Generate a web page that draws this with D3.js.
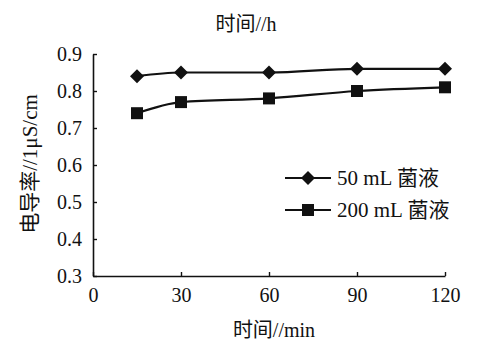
<!DOCTYPE html>
<html>
<head>
<meta charset="utf-8">
<script src="https://cdn.jsdelivr.net/npm/d3@7/dist/d3.min.js"></script>
<style>
  html, body { margin: 0; padding: 0; background: #fff; }
  svg { display: block; }
  text { font-family: "Liberation Serif", "Times New Roman", "Noto Sans CJK SC", serif; fill: #111; }
</style>
</head>
<body>
<svg id="chart" width="503" height="342"></svg>
<script>
// Conductivity over time for two culture volumes
const times = [15, 30, 60, 90, 120];
const series50 = [0.84, 0.85, 0.85, 0.86, 0.86];
const series200 = [0.74, 0.77, 0.78, 0.80, 0.81];
const seriesNames = ["50 mL 菌液", "200 mL 菌液"];
const xTicks = [0, 30, 60, 90, 120];
const yTicks = [0.3, 0.4, 0.5, 0.6, 0.7, 0.8, 0.9];

const svg = d3.select("#chart");
const margin = { left: 93, right: 58, top: 54, bottom: 66 };
const W = 503, H = 342;
const serif = '"Liberation Serif", "Times New Roman", "Noto Sans CJK SC", serif';

const x = d3.scaleLinear().domain([0, 120]).range([margin.left, W - margin.right]);
const y = d3.scaleLinear().domain([0.3, 0.9]).range([H - margin.bottom, margin.top]);

const ink = "#111";

// x axis (ticks inward)
const gx = svg.append("g")
  .attr("transform", `translate(0,${y(0.3)})`)
  .call(d3.axisBottom(x).tickValues(xTicks).tickSizeInner(-4).tickSizeOuter(0).tickPadding(9).tickFormat(d3.format("d")))
  .attr("font-family", serif);
gx.select(".domain").attr("stroke", ink).attr("stroke-width", 1.6);
gx.selectAll(".tick line").attr("stroke", ink).attr("stroke-width", 1.4);
gx.selectAll(".tick text").attr("font-size", 20).attr("dy", "0.85em").style("font-family", serif);

// y axis (ticks inward)
const gy = svg.append("g")
  .attr("transform", `translate(${x(0)},0)`)
  .call(d3.axisLeft(y).tickValues(yTicks).tickSizeInner(-4).tickSizeOuter(0).tickPadding(11).tickFormat(d3.format(".1f")))
  .attr("font-family", serif);
gy.select(".domain").attr("stroke", ink).attr("stroke-width", 1.6);
gy.selectAll(".tick line").attr("stroke", ink).attr("stroke-width", 1.4);
gy.selectAll(".tick text").attr("font-size", 20).style("font-family", serif);

// titles
svg.append("text").attr("x", 246).attr("y", 31).attr("text-anchor", "middle")
  .attr("font-size", 20).text("时间//h");
svg.append("text").attr("x", 274).attr("y", 337).attr("text-anchor", "middle")
  .attr("font-size", 20).text("时间//min");
svg.append("text")
  .attr("transform", `translate(37,164) rotate(-90)`)
  .attr("text-anchor", "middle").attr("font-size", 21).text("电导率//1μS/cm");

// lines
const line = d3.line().x(d => x(d[0])).y(d => y(d[1])).curve(d3.curveMonotoneX);
const data = [series50, series200].map(s => times.map((t, i) => [t, s[i]]));

data.forEach(pts => {
  svg.append("path").datum(pts).attr("d", line)
    .attr("fill", "none").attr("stroke", ink).attr("stroke-width", 2.2);
});

// marker shapes: a diamond and a filled square
const diamond = "M-7,0L0,-7L7,0L0,7Z";
const square = d3.symbol().type(d3.symbolSquare).size(144)();

svg.append("g").selectAll("path").data(data[0]).join("path")
  .attr("transform", d => `translate(${x(d[0])},${y(d[1])})`)
  .attr("d", diamond).attr("fill", ink);
svg.append("g").selectAll("path").data(data[1]).join("path")
  .attr("transform", d => `translate(${x(d[0])},${y(d[1])})`)
  .attr("d", square).attr("fill", ink);

// legend
const legend = svg.append("g");
const legendRows = [{ name: seriesNames[0], sym: diamond, yy: 178 }, { name: seriesNames[1], sym: square, yy: 210 }];
legendRows.forEach(r => {
  legend.append("line").attr("x1", 285).attr("x2", 331).attr("y1", r.yy).attr("y2", r.yy)
    .attr("stroke", ink).attr("stroke-width", 2.2);
  legend.append("path").attr("transform", `translate(308,${r.yy})`).attr("d", r.sym).attr("fill", ink);
  legend.append("text").attr("x", 337).attr("y", r.yy).attr("dy", "0.35em")
    .attr("font-size", 21).text(r.name);
});
</script>
</body>
</html>
